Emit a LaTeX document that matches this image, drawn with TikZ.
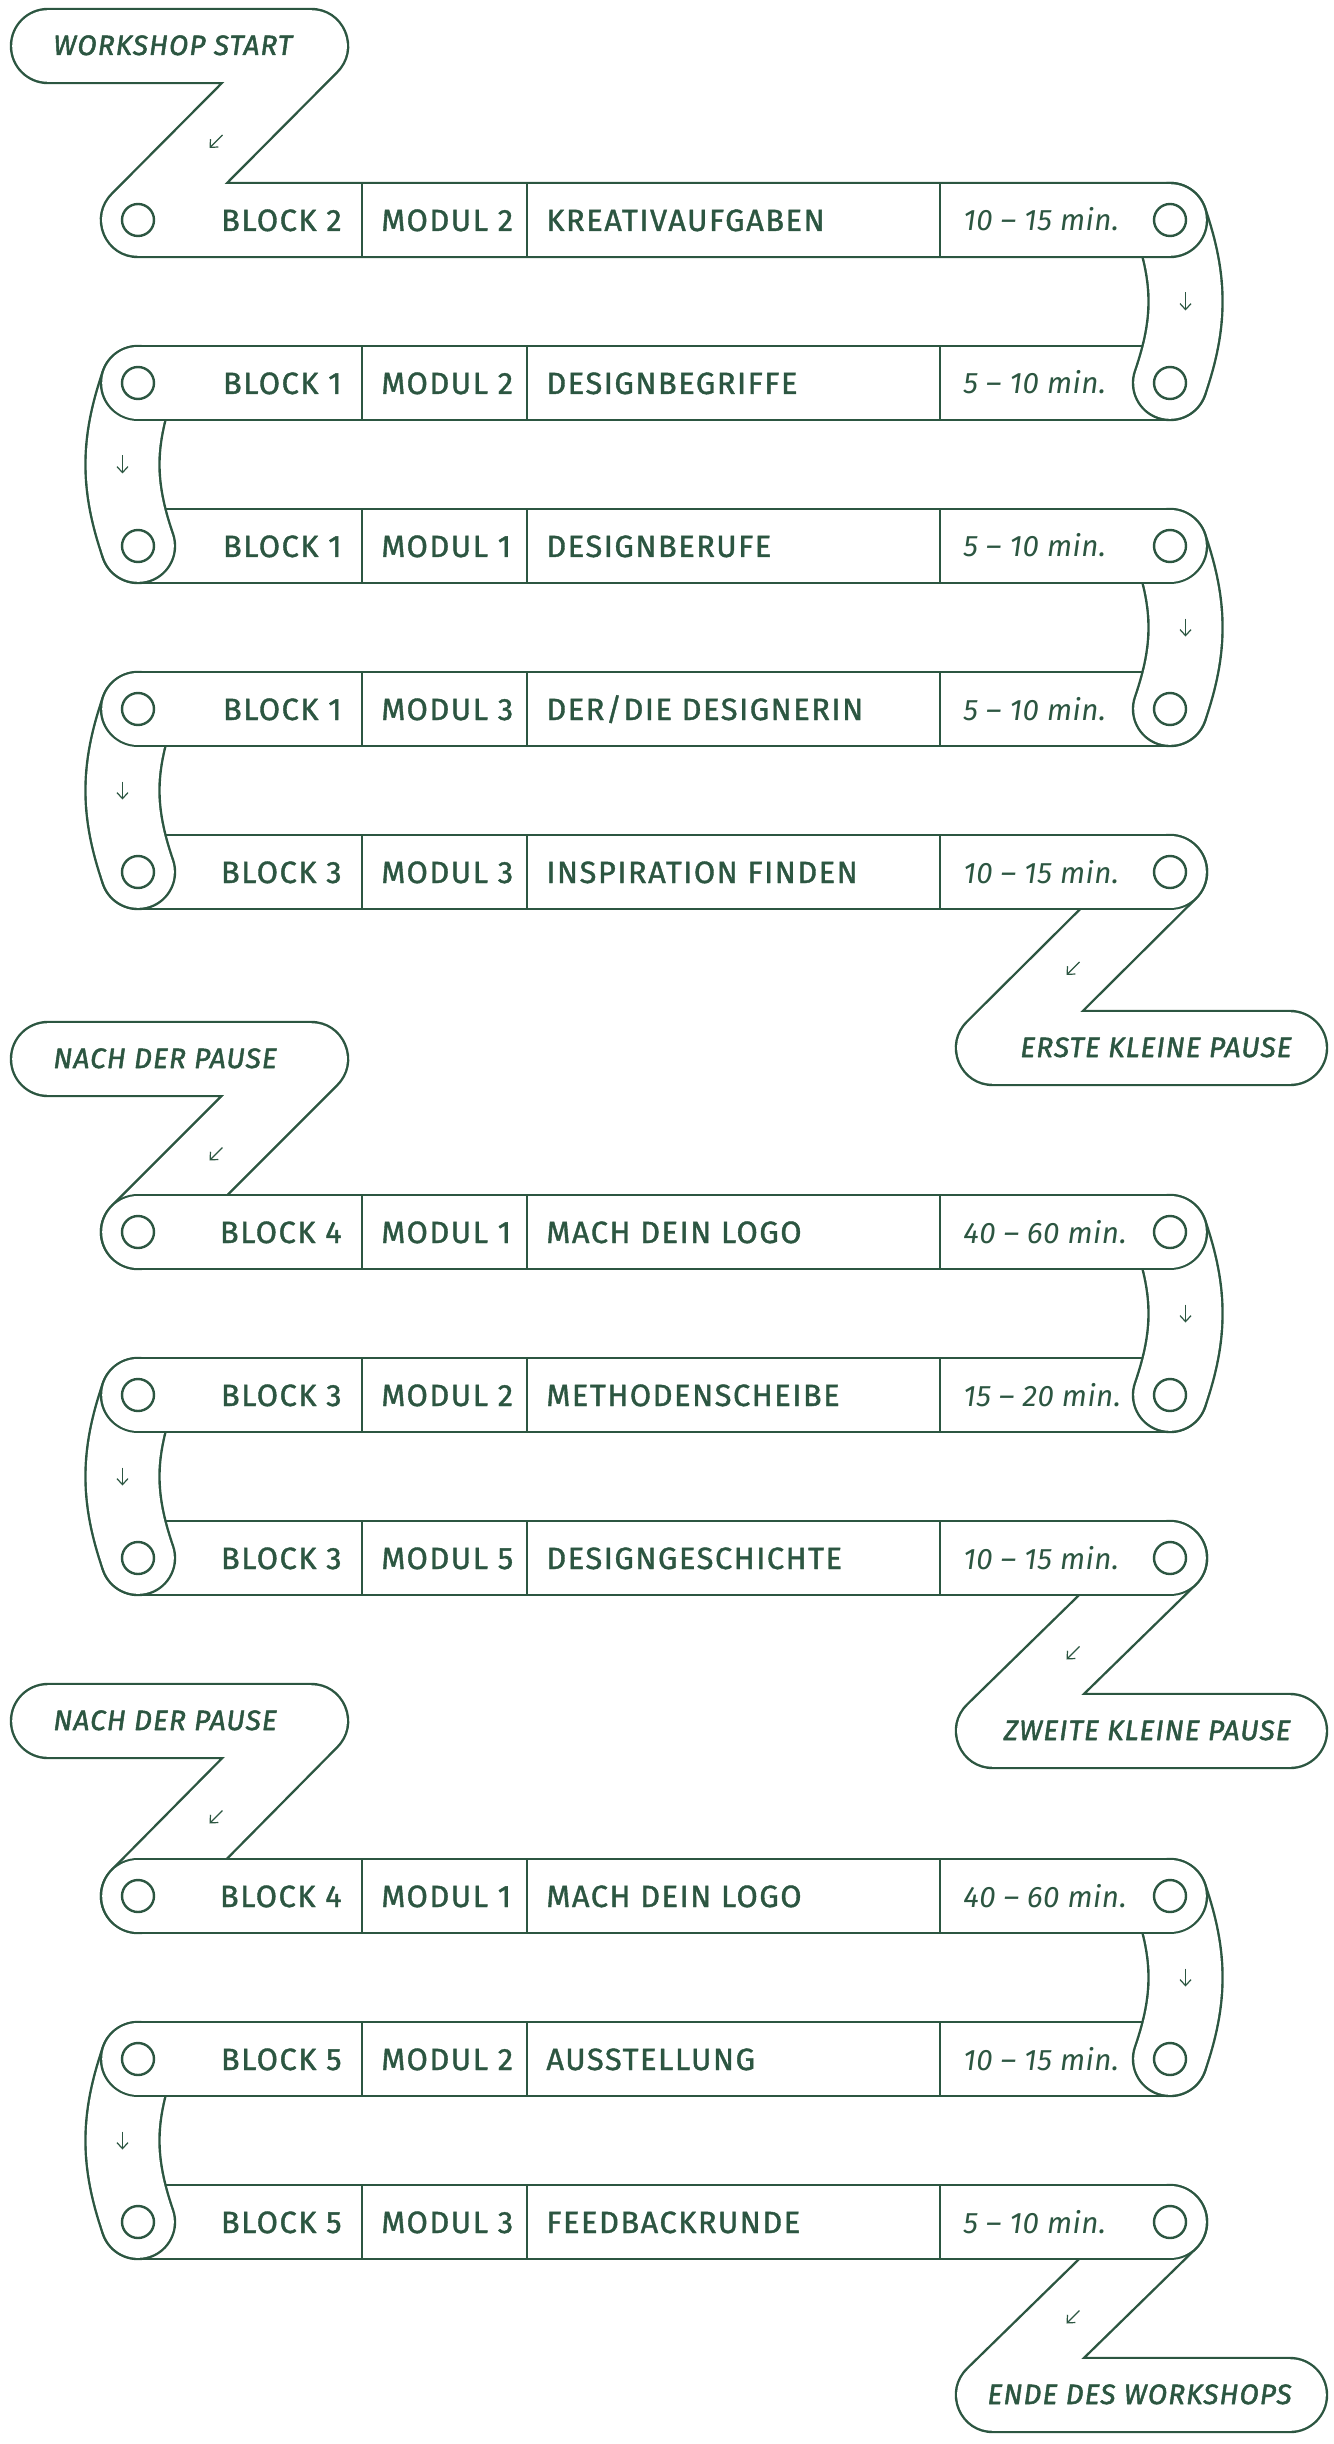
\documentclass[tikz,border=0pt]{standalone}
\usepackage{fontspec}
\setmainfont{Fira Sans}
\usepackage{xcolor}
\usetikzlibrary{arrows.meta, calc}

\definecolor{pine}{HTML}{2C5641}
\newfontfamily\cellfamily{Fira Sans}[FakeBold=1.2, LetterSpace=5.0]
\newfontfamily\timefamily{Fira Sans}[LetterSpace=1.5]
\newfontfamily\pillfamily{Fira Sans}[FakeBold=1.8, LetterSpace=4.0]
\newcommand{\cellfont}{\cellfamily\fontsize{15.4}{18}\selectfont}
\newcommand{\timefont}{\timefamily\itshape\fontsize{14.8}{17}\selectfont}
\newcommand{\pillfont}{\pillfamily\itshape\fontsize{14}{16}\selectfont}

\pgfdeclarelayer{front}
\pgfsetlayers{main,front}

% dividers and texts of one agenda row: name, y, block, modul, title, time
\newcommand{\agendacells}[6]{%
  \draw[rule] (362,#2-37) -- (362,#2+37)
              (527,#2-37) -- (527,#2+37)
              (940,#2-37) -- (940,#2+37);
  \node[cell, anchor=base east] (#1-block) at (342,#2+11) {#3};
  \node[cell, anchor=base west] (#1-modul) at (381,#2+11) {#4};
  \node[cell, anchor=base west] (#1-title) at (546,#2+11) {#5};
  \node[timecell, anchor=base west] (#1-time) at (963,#2+11) {#6};
}
\newcommand{\agendarow}[6]{%
  \draw[band] (#1l.center) -- (#1r.center);
  \agendacells{#1}{#2}{#3}{#4}{#5}{#6}
}
\newcommand{\agendaholes}[2]{%
  \node[hole] (#1l) at (138,#2) {};
  \node[hole] (#1r) at (1170,#2) {};
}
\newcommand{\downtip}[1]{\draw[tip] ($(#1)+(0,-9)$) -- ($(#1)+(0,9)$);}
\newcommand{\diagtip}[1]{\draw[tip] ($(#1)+(-2,2)$) -- ($(#1)+(-15,15)$);}

\begin{document}
\begin{tikzpicture}[
  x=0.5pt, y=-0.5pt,
  line join=round,
  band/.style={draw=pine, line width=1.2pt, double=white, double distance=35.8pt, line cap=round},
  hole/.style={circle, draw=pine, line width=1.2pt, minimum size=16pt, inner sep=0pt},
  rule/.style={draw=pine, line width=1.2pt},
  cell/.style={inner sep=0pt, text=pine, font=\cellfont},
  timecell/.style={inner sep=0pt, text=pine, font=\timefont},
  pilltext/.style={inner sep=0pt, text=pine, font=\pillfont},
  tip/.style={draw=pine, line width=0.6pt, -{Straight Barb[length=3pt, width=5.5pt]}}
]
\useasboundingbox (0,0) rectangle (1333,2444);

\begin{pgfonlayer}{front}
\agendaholes{r1}{220}
\agendaholes{r2}{383}
\agendaholes{r3}{546}
\agendaholes{r4}{709}
\agendaholes{r5}{872}
\agendaholes{r6}{1232}
\agendaholes{r7}{1395}
\agendaholes{r8}{1558}
\agendaholes{r9}{1896}
\agendaholes{r10}{2059}
\agendaholes{r11}{2222}
\end{pgfonlayer}

% pill cap centres
\coordinate (start-a) at (48,46);     \coordinate (start-c) at (311,46);
\coordinate (pause1-c) at (993,1048); \coordinate (pause1-e) at (1290,1048);
\coordinate (after1-a) at (48,1059);  \coordinate (after1-c) at (311,1059);
\coordinate (pause2-c) at (993,1731); \coordinate (pause2-e) at (1290,1731);
\coordinate (after2-a) at (48,1721);  \coordinate (after2-c) at (311,1721);
\coordinate (end-c) at (993,2395);    \coordinate (end-e) at (1290,2395);

% third part (drawn bottom first)
\draw[band] (r11r.center) -- coordinate[pos=.5] (m11) (end-c) -- (end-e);
\diagtip{m11}
\node[pilltext, anchor=base east] (end-t) at (1292,2404) {ENDE DES WORKSHOPS};
\agendarow{r11}{2222}{BLOCK 5}{MODUL 3}{FEEDBACKRUNDE}{5 – 10 min.}
\draw[band] (r10l.center) to[bend right=19] coordinate[pos=.5] (u10) (r11l.center);
\downtip{u10}
\agendarow{r10}{2059}{BLOCK 5}{MODUL 2}{AUSSTELLUNG}{10 – 15 min.}
\draw[band] (r9r.center) to[bend left=19] coordinate[pos=.5] (u9) (r10r.center);
\downtip{u9}
\draw[band] (after2-a) -- (after2-c) -- coordinate[pos=.5] (m8) (r9l.center);
\diagtip{m8}
\node[pilltext, anchor=base west] (after2-t) at (53,1730) {NACH DER PAUSE};
\agendarow{r9}{1896}{BLOCK 4}{MODUL 1}{MACH DEIN LOGO}{40 – 60 min.}

% second part
\draw[band] (r8r.center) -- coordinate[pos=.5] (m7) (pause2-c) -- (pause2-e);
\diagtip{m7}
\node[pilltext, anchor=base east] (pause2-t) at (1291,1740) {ZWEITE KLEINE PAUSE};
\agendarow{r8}{1558}{BLOCK 3}{MODUL 5}{DESIGNGESCHICHTE}{10 – 15 min.}
\draw[band] (r7l.center) to[bend right=19] coordinate[pos=.5] (u7) (r8l.center);
\downtip{u7}
\agendarow{r7}{1395}{BLOCK 3}{MODUL 2}{METHODENSCHEIBE}{15 – 20 min.}
\draw[band] (r6r.center) to[bend left=19] coordinate[pos=.5] (u6) (r7r.center);
\downtip{u6}
\draw[band] (after1-a) -- (after1-c) -- coordinate[pos=.5] (m5) (r6l.center);
\diagtip{m5}
\node[pilltext, anchor=base west] (after1-t) at (53,1068) {NACH DER PAUSE};
\agendarow{r6}{1232}{BLOCK 4}{MODUL 1}{MACH DEIN LOGO}{40 – 60 min.}

% first part
\draw[band] (r5r.center) -- coordinate[pos=.5] (m4) (pause1-c) -- (pause1-e);
\diagtip{m4}
\node[pilltext, anchor=base east] (pause1-t) at (1292,1057) {ERSTE KLEINE PAUSE};
\agendarow{r5}{872}{BLOCK 3}{MODUL 3}{INSPIRATION FINDEN}{10 – 15 min.}
\draw[band] (r4l.center) to[bend right=19] coordinate[pos=.5] (u4) (r5l.center);
\downtip{u4}
\agendarow{r4}{709}{BLOCK 1}{MODUL 3}{DER/DIE DESIGNERIN}{5 – 10 min.}
\draw[band] (r3r.center) to[bend left=19] coordinate[pos=.5] (u3) (r4r.center);
\downtip{u3}
\agendarow{r3}{546}{BLOCK 1}{MODUL 1}{DESIGNBERUFE}{5 – 10 min.}
\draw[band] (r2l.center) to[bend right=19] coordinate[pos=.5] (u2) (r3l.center);
\downtip{u2}
\agendarow{r2}{383}{BLOCK 1}{MODUL 2}{DESIGNBEGRIFFE}{5 – 10 min.}
\draw[band] (r1r.center) to[bend left=19] coordinate[pos=.5] (u1) (r2r.center);
\downtip{u1}
\draw[band] (start-a) -- (start-c) -- coordinate[pos=.5] (m0) (r1l.center) -- (r1r.center);
\diagtip{m0}
\node[pilltext, anchor=base west] (start-t) at (53,55) {WORKSHOP START};
\agendacells{r1}{220}{BLOCK 2}{MODUL 2}{KREATIVAUFGABEN}{10 – 15 min.}
\end{tikzpicture}
\end{document}
